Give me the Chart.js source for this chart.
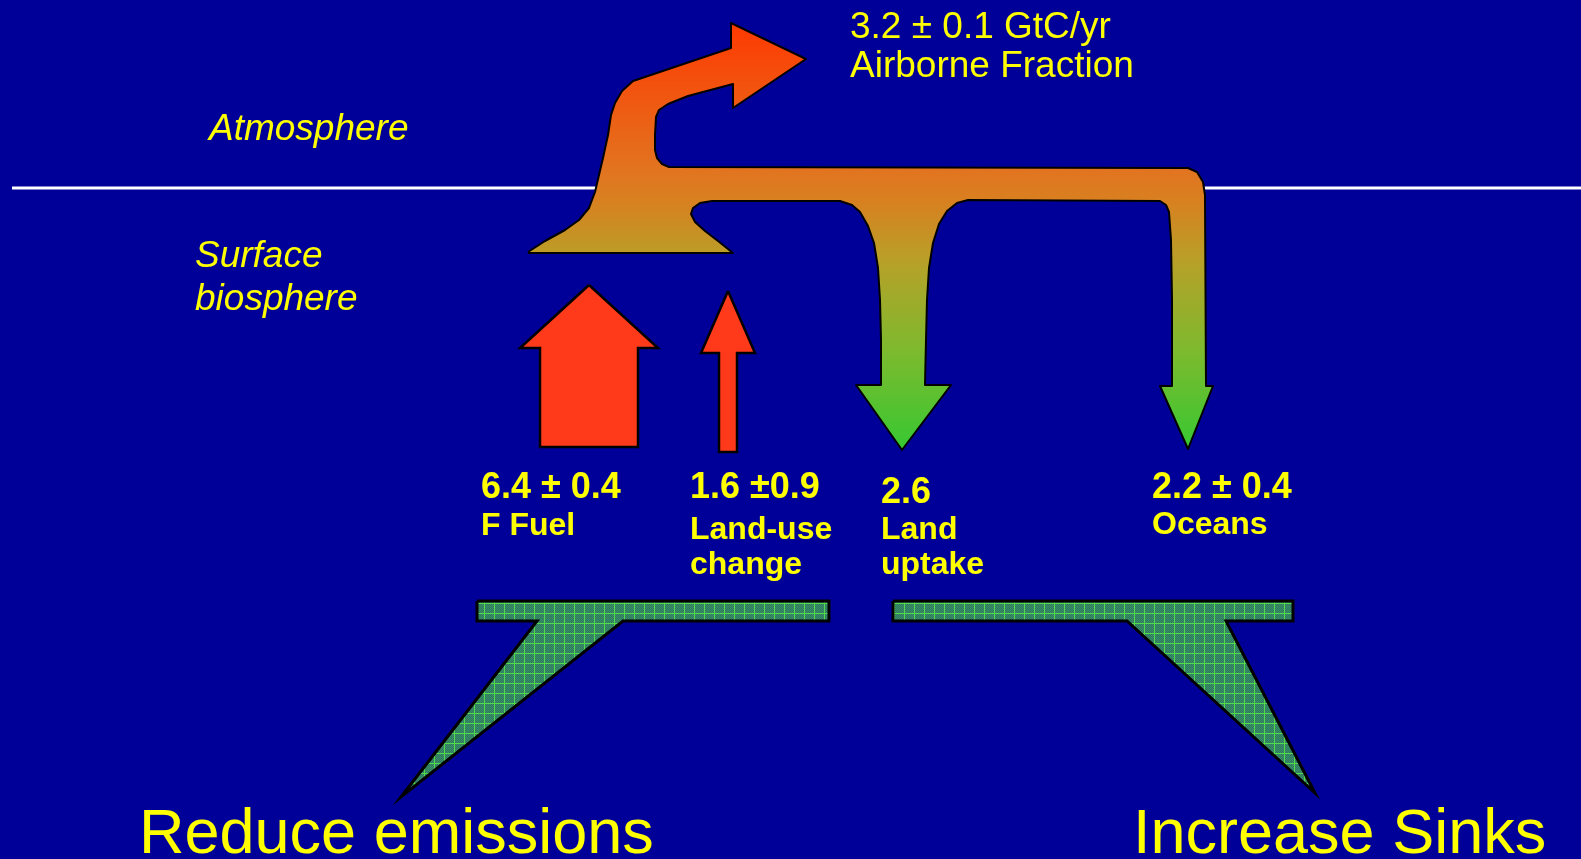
<!DOCTYPE html>
<html>
<head>
<meta charset="utf-8">
<title>Carbon fluxes</title>
<script src="https://cdn.jsdelivr.net/npm/chart.js@4.4.1/dist/chart.umd.min.js"></script>
<style>
    html, body { margin: 0; padding: 0; background: #000099; overflow: hidden; }
    #wrap { width: 1581px; height: 859px; }
</style>
</head>
<body>
<div id="wrap"><canvas id="myChart" width="1581" height="859"></canvas></div>
<script>
/* globals Chart:false */

// Fluxes, GtC/yr
const fluxNames = [["F Fuel"], ["Land-use", "change"], ["Land", "uptake"], ["Oceans"]];
const fluxValues = [6.4, 1.6, 2.6, 2.2];
const fluxLabels = ["6.4 ± 0.4", "1.6 ±0.9", "2.6", "2.2 ± 0.4"];
const airborneValue = 3.2;
const airborneLabels = ["3.2 ± 0.1 GtC/yr", "Airborne Fraction"];
const regionLabels = ["Atmosphere", ["Surface", "biosphere"]];
const actionLabels = ["Reduce emissions", "Increase Sinks"];

(() => {
    "use strict";

    const W = 1581;
    const H = 859;

    // layout, in canvas units (x right, y down)
    const boundaryY = 188;
    const textPos = {
        atmosphere: [209, 140],
        surface: [195, 267],
        airborne: [850, 38],
        flux: [[481, 498], [690, 498], [881, 503], [1152, 498]],
        nameGap: [37, 41, 36, 36],
        actions: [[139, 853], [1133, 853]],
    };

    // big flow: trunk, airborne arrow, branch to land and ocean
    const flowOutline = [
        [528, 252], [545, 241], [565, 230], [579, 220], [589, 208], [595, 192],
        [599, 175], [603, 158], [608, 135], [611, 115], [615, 103], [622, 91],
        [633, 81], [731, 48], [731, 23], [806, 59], [733, 108], [733, 84],
        [688, 96], [668, 104], [659, 110], [656, 117], [655, 135], [655, 150],
        [657, 158], [662, 164], [669, 167], [1188, 168], [1197, 172], [1203, 182],
        [1205, 195], [1206, 386], [1213, 386], [1188, 449], [1160, 386], [1172, 386],
        [1172, 300], [1171, 240], [1169, 212], [1166, 205], [1160, 201], [968, 200],
        [957, 203], [947, 211], [939, 224], [933, 243], [929, 268], [927, 300],
        [926, 340], [925, 385], [951, 385], [902, 450], [856, 385], [881, 385],
        [881, 340], [880, 300], [878, 268], [874, 243], [868, 226], [860, 212],
        [852, 205], [840, 201], [712, 201], [700, 203], [693, 208], [691, 214],
        [695, 222], [705, 231], [718, 241], [728, 249], [733, 253], [528, 253],
    ];

    function upArrow(cx, tipY, headY, baseY, shaftHalf, headHalf) {
        return [
            [cx, tipY], [cx + headHalf, headY], [cx + shaftHalf, headY],
            [cx + shaftHalf, baseY], [cx - shaftHalf, baseY], [cx - shaftHalf, headY],
            [cx - headHalf, headY], [cx, tipY],
        ];
    }

    const fuelArrow = upArrow(589, 285, 348, 447, 49, 69);
    const landUseArrow = upArrow(728, 291, 353, 452, 9, 27);

    const leftPlatform = [
        [477, 601], [829, 601], [829, 621], [623, 621], [401, 797], [537, 621], [477, 621], [477, 601],
    ];
    const rightPlatform = [
        [893, 601], [1293, 601], [1293, 621], [1226, 621], [1315, 793], [1127, 621], [893, 621], [893, 601],
    ];

    const pts = (arr) => arr.map(([x, y]) => ({ x, y }));

    // hatch used on the two platforms
    function hatch(ctx) {
        const c = document.createElement("canvas");
        c.width = 10;
        c.height = 10;
        const p = c.getContext("2d");
        p.fillStyle = "#2e7a5e";
        p.fillRect(0, 0, 10, 10);
        p.fillStyle = "#3a8c6a";
        for (let i = 0; i < 10; i++) {
            for (let j = 0; j < 10; j++) {
                if ((i + j) % 2 === 0) p.fillRect(i, j, 1, 1);
            }
        }
        p.fillStyle = "#52dc4c";
        p.fillRect(4, 0, 1, 10);
        p.fillRect(0, 3, 10, 1);
        return ctx.createPattern(c, "repeat");
    }

    function paintFor(chart, kind) {
        const ctx = chart.ctx;
        if (kind === "flow") {
            const y = chart.scales.y;
            const g = ctx.createLinearGradient(0, y.getPixelForValue(20), 0, y.getPixelForValue(450));
            g.addColorStop(0, "#ff3800");
            g.addColorStop(0.35, "#e27420");
            g.addColorStop(0.42, "#d88020");
            g.addColorStop(0.56, "#b8a028");
            g.addColorStop(0.77, "#7dba2e");
            g.addColorStop(1, "#36c832");
            return g;
        }
        if (kind === "hatch") return hatch(ctx);
        return kind;
    }

    // fill each closed outline under the line the library strokes
    const shapeFill = {
        id: "shapeFill",
        beforeDraw(chart) {
            const ctx = chart.ctx;
            ctx.save();
            ctx.fillStyle = "#000099";
            ctx.fillRect(0, 0, chart.width, chart.height);
            ctx.restore();
        },
        beforeDatasetDraw(chart, args) {
            const ds = chart.data.datasets[args.index];
            if (!ds.paint) return;
            const pointsPx = args.meta.data;
            const ctx = chart.ctx;
            ctx.save();
            ctx.beginPath();
            pointsPx.forEach((p, i) => (i ? ctx.lineTo(p.x, p.y) : ctx.moveTo(p.x, p.y)));
            ctx.closePath();
            ctx.fillStyle = paintFor(chart, ds.paint);
            ctx.fill();
            ctx.restore();
        },
    };

    const labelText = {
        id: "labelText",
        afterDraw(chart) {
            const ctx = chart.ctx;
            const px = (x) => chart.scales.x.getPixelForValue(x);
            const py = (y) => chart.scales.y.getPixelForValue(y);
            ctx.save();
            ctx.fillStyle = "#ffff00";
            ctx.textBaseline = "alphabetic";
            ctx.textAlign = "left";

            ctx.font = "italic 37px 'Liberation Sans', Arial, sans-serif";
            ctx.fillText(regionLabels[0], px(textPos.atmosphere[0]), py(textPos.atmosphere[1]));
            regionLabels[1].forEach((t, i) => {
                ctx.fillText(t, px(textPos.surface[0]), py(textPos.surface[1] + i * 43));
            });

            ctx.font = "37px 'Liberation Sans', Arial, sans-serif";
            airborneLabels.forEach((t, i) => {
                ctx.fillText(t, px(textPos.airborne[0]), py(textPos.airborne[1] + i * 39));
            });

            fluxValues.forEach((v, i) => {
                const [x, y] = textPos.flux[i];
                ctx.font = "bold 36px 'Liberation Sans', Arial, sans-serif";
                ctx.fillText(fluxLabels[i], px(x), py(y));
                ctx.font = "bold 32px 'Liberation Sans', Arial, sans-serif";
                fluxNames[i].forEach((t, j) => {
                    ctx.fillText(t, px(x), py(y + textPos.nameGap[i] + j * 35));
                });
            });

            ctx.font = "63px 'Liberation Sans', Arial, sans-serif";
            actionLabels.forEach((t, i) => {
                ctx.fillText(t, px(textPos.actions[i][0]), py(textPos.actions[i][1]));
            });
            ctx.restore();
        },
    };

    const shape = (outline, paint, width, join) => ({
        data: pts(outline),
        showLine: true,
        paint: paint,
        borderColor: "#000000",
        borderWidth: width,
        borderJoinStyle: join,
        pointRadius: 0,
        tension: 0,
        fill: false,
    });

    const ctx = document.getElementById("myChart");
    // eslint-disable-next-line no-unused-vars
    const myChart = new Chart(ctx, {
        type: "scatter",
        data: {
            datasets: [
                shape(flowOutline, "flow", 2, "round"),
                shape(fuelArrow, "#ff3a1a", 2.5, "miter"),
                shape(landUseArrow, "#ff3a1a", 2.5, "miter"),
                shape(leftPlatform, "hatch", 3, "miter"),
                shape(rightPlatform, "hatch", 3, "miter"),
                {
                    // atmosphere / surface boundary
                    data: pts([[12, boundaryY], [W, boundaryY]]),
                    showLine: true,
                    borderColor: "#ffffff",
                    borderWidth: 3,
                    pointRadius: 0,
                    fill: false,
                },
            ],
        },
        options: {
            responsive: false,
            devicePixelRatio: 1,
            animation: false,
            events: [],
            layout: { padding: 0 },
            scales: {
                x: { type: "linear", min: 0, max: W, display: false },
                y: { type: "linear", min: 0, max: H, reverse: true, display: false },
            },
            plugins: {
                legend: { display: false },
                tooltip: { enabled: false },
            },
        },
        plugins: [shapeFill, labelText],
    });
})();
</script>
</body>
</html>
